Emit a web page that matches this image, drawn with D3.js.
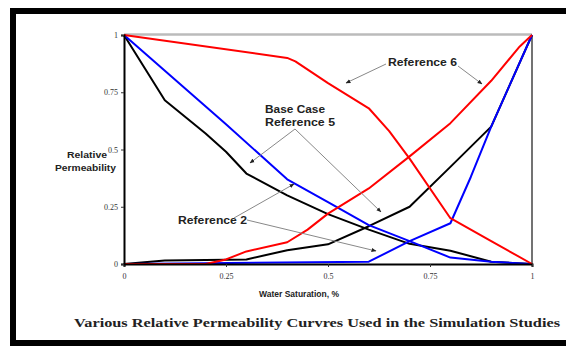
<!DOCTYPE html>
<html><head><meta charset="utf-8">
<script src="https://cdn.jsdelivr.net/npm/d3@7"></script>
<style>body{margin:0;background:#fff}svg{display:block}</style>
</head><body><svg id="c" width="566" height="346"></svg>
<script>
const ticks = [0, 0.25, 0.5, 0.75, 1];
const tickLabels = ["0", "0.25", "0.5", "0.75", "1"];
// Reference 6 (red)
const red_kro = [[0,1],[0.4,0.9],[0.42,0.885],[0.5,0.79],[0.6,0.68],[0.65,0.58],[0.7,0.46],[0.8,0.2],[0.9,0.1],[1,0]];
const red_krw = [[0,0],[0.2,0],[0.25,0.02],[0.3,0.055],[0.4,0.095],[0.45,0.15],[0.5,0.22],[0.6,0.33],[0.7,0.47],[0.8,0.615],[0.9,0.8],[0.97,0.95],[1,1]];
// Base Case / Reference 5 (blue)
const blue_kro = [[0,1],[0.25,0.61],[0.4,0.37],[0.5,0.27],[0.6,0.17],[0.7,0.1],[0.8,0.028],[0.9,0.01],[1,0]];
const blue_krw = [[0,0],[0.6,0.01],[0.7,0.1],[0.8,0.178],[0.85,0.38],[0.9,0.6],[1,1]];
// Reference 2 (black)
const black_kro = [[0,1],[0.1,0.715],[0.2,0.57],[0.25,0.49],[0.3,0.395],[0.4,0.3],[0.5,0.218],[0.6,0.15],[0.7,0.088],[0.8,0.058],[0.9,0.01],[1,0]];
const black_krw = [[0,0],[0.1,0.015],[0.3,0.02],[0.4,0.06],[0.5,0.086],[0.6,0.165],[0.7,0.25],[0.8,0.424],[0.9,0.6],[1,1]];

const svg = d3.select("#c");
const x = d3.scaleLinear().domain([0,1]).range([124,532]);
const y = d3.scaleLinear().domain([0,1]).range([264,35]);

// outer frame
svg.append("rect").attr("x",13).attr("y",11).attr("width",620).attr("height",332)
  .attr("fill","none").attr("stroke","#000").attr("stroke-width",6);

// plot frame
svg.append("line").attr("x1",x(0)).attr("x2",x(1)).attr("y1",y(1)-0.5).attr("y2",y(1)-0.5)
  .attr("stroke","#bbb").attr("stroke-width",2.5);
svg.append("line").attr("x1",x(1)).attr("x2",x(1)).attr("y1",y(1)).attr("y2",y(0))
  .attr("stroke","#444").attr("stroke-width",1.5);

const line = d3.line().x(d=>x(d[0])).y(d=>y(d[1]));
const series = [
  [black_kro,"#000"],[black_krw,"#000"],
  [blue_kro,"#00f"],[blue_krw,"#00f"],
  [red_kro,"#f00"],[red_krw,"#f00"]
];
series.forEach(([d,c])=>{
  svg.append("path").datum(d).attr("d",line).attr("fill","none")
    .attr("stroke",c).attr("stroke-width",2).attr("stroke-linejoin","round");
});

// axes
const ax = svg.append("g").attr("transform",`translate(0,${y(0)})`)
  .call(d3.axisBottom(x).tickValues(ticks).tickFormat((d,i)=>tickLabels[i]).tickSize(3).tickPadding(6));
const ay = svg.append("g").attr("transform",`translate(${x(0)},0)`)
  .call(d3.axisLeft(y).tickValues(ticks).tickFormat((d,i)=>tickLabels[i]).tickSize(3).tickPadding(3));
[ax,ay].forEach(g=>{
  g.select(".domain").attr("stroke","#000").attr("stroke-width",2);
  g.selectAll(".tick line").attr("stroke","#333");
  g.selectAll("text").attr("font-family","Liberation Serif, serif").attr("font-size",8).attr("fill","#333");
});

// axis titles
const sans = "Liberation Sans, Arial, sans-serif";
svg.append("text").attr("x",67).attr("y",158).attr("textLength",40).attr("lengthAdjust","spacingAndGlyphs")
  .attr("font-family",sans).attr("font-weight","bold").attr("font-size",9).attr("fill","#222").text("Relative");
svg.append("text").attr("x",55).attr("y",171).attr("textLength",61).attr("lengthAdjust","spacingAndGlyphs")
  .attr("font-family",sans).attr("font-weight","bold").attr("font-size",9).attr("fill","#222").text("Permeability");
svg.append("text").attr("x",299).attr("y",297).attr("text-anchor","middle")
  .attr("font-family",sans).attr("font-weight","bold").attr("font-size",8.5).attr("fill","#222").text("Water Saturation, %");

// caption
svg.append("text").attr("x",74).attr("y",327).attr("textLength",486).attr("lengthAdjust","spacingAndGlyphs")
  .attr("font-family","Liberation Serif, Times New Roman, serif").attr("font-weight","bold").attr("font-size",13).attr("fill","#222")
  .text("Various Relative Permeability Curvres Used in the Simulation Studies");

// annotations
const defs = svg.append("defs");
defs.append("marker").attr("id","ah").attr("viewBox","0 0 10 10").attr("refX",9).attr("refY",5)
  .attr("markerWidth",5).attr("markerHeight",5).attr("orient","auto")
  .append("path").attr("d","M0,1L10,5L0,9z").attr("fill","#222");
function lab(t,x0,y0,w){
  svg.append("text").attr("x",x0).attr("y",y0).attr("textLength",w).attr("lengthAdjust","spacingAndGlyphs")
    .attr("font-family",sans).attr("font-weight","bold").attr("font-size",10).attr("fill","#222").text(t);
}
function arr(a,b,c,d){
  svg.append("line").attr("x1",a).attr("y1",b).attr("x2",c).attr("y2",d)
    .attr("stroke","#888").attr("stroke-width",1).attr("marker-end","url(#ah)");
}
lab("Reference 6",388,66,69);
arr(386,64,346,83); arr(458,66,482,84);
lab("Base Case",265,113,60);
lab("Reference 5",265,126,70);
arr(295,129,250,163); arr(295,129,381,212);
lab("Reference 2",178,224,69);
arr(234,218,294,184); arr(247,220,376,251);
</script></body></html>
